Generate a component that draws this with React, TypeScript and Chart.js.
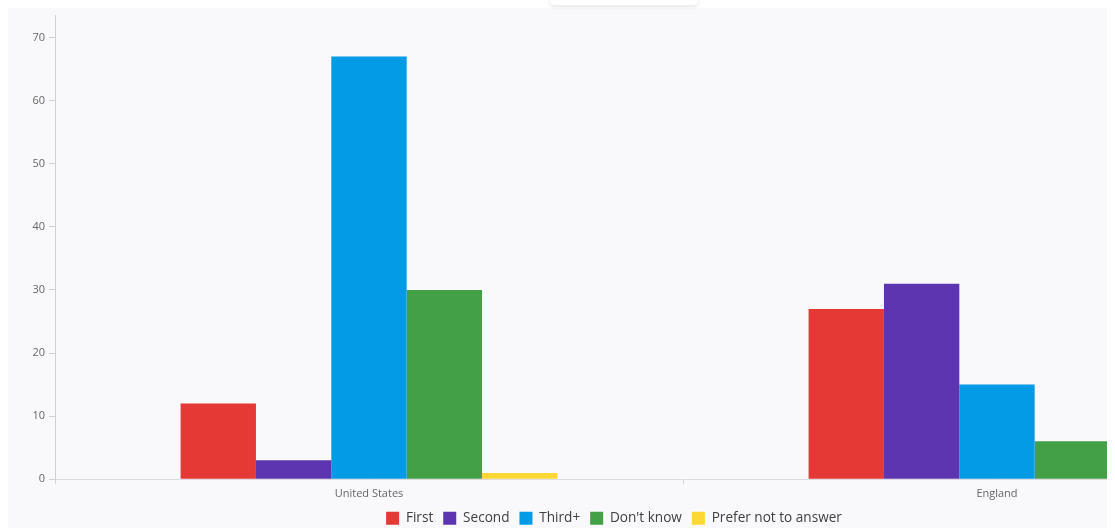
import React, { useEffect, useRef } from "react";
import { Chart, registerables } from "chart.js";

Chart.register(...registerables);

const categories = ["United States", "England"];
const seriesNames = ["First", "Second", "Third+", "Don't know", "Prefer not to answer"];
const firstValues = [12, 27];
const secondValues = [3, 31];
const thirdValues = [67, 15];
const dontKnowValues = [30, 6];
const preferNotValues = [1, 0];
const seriesColors = ["#E53935", "#5E35B1", "#039BE5", "#43A047", "#FDD835"];
const yTickMax = 73.5;
const yStep = 10;

const legendShift = {
  id: "legendShift",
  afterLayout(chart: any) {
    const lg = chart.legend;
    if (!lg) return;
    const desired = 608;
    const cur = (lg.left + lg.right) / 2;
    const d = desired - cur;
    lg.left += d;
    lg.right += d;
    lg.top -= 2;
    lg.bottom -= 2;
  },
};

export default function App() {
  const ref = useRef<HTMLCanvasElement | null>(null);
  useEffect(() => {
    if (!ref.current) return;
    const values = [firstValues, secondValues, thirdValues, dontKnowValues, preferNotValues];
    const chart = new Chart(ref.current, {
      type: "bar",
      data: {
        labels: categories,
        datasets: seriesNames.map((name, i) => ({
          label: name,
          data: values[i],
          backgroundColor: seriesColors[i],
          borderWidth: 0,
          categoryPercentage: 0.6,
          barPercentage: 1.0,
        })),
      },
      options: {
        animation: false,
        responsive: false,
        maintainAspectRatio: false,
        layout: { padding: { top: 8, right: 7, left: 0, bottom: 0 } },
        plugins: {
          tooltip: { enabled: false },
          legend: {
            position: "bottom",
            labels: {
              boxWidth: 13,
              boxHeight: 13,
              padding: 10,
              color: "#404040",
              font: { family: "'Open Sans', sans-serif", size: 13.6 },
            },
          },
        },
        scales: {
          x: {
            grid: {
              offset: true,
              drawOnChartArea: false,
              drawTicks: true,
              tickLength: 5,
              tickColor: "#d4d4d8",
            },
            border: { color: "#dcdce0", width: 1 },
            ticks: {
              color: "#666",
              padding: 3,
              font: { family: "'Open Sans', sans-serif", size: 11 },
            },
          },
          y: {
            min: 0,
            max: yTickMax,
            afterFit(scale: any) {
              scale.width = 49;
            },
            grid: {
              drawOnChartArea: false,
              drawTicks: true,
              tickLength: 6,
              tickColor: "#cfcfd4",
            },
            border: { color: "#cfcfd4", width: 1 },
            ticks: {
              stepSize: yStep,
              includeBounds: false,
              color: "#666",
              padding: 4,
              font: { family: "'Open Sans', sans-serif", size: 11 },
            },
          },
        },
      },
      plugins: [legendShift],
    });
    return () => chart.destroy();
  }, []);

  return (
    <div>
      <div
        style={{
          position: "fixed",
          left: 550,
          top: -4,
          width: 148,
          height: 9,
          background: "#ffffff",
          boxShadow: "0 2px 4px rgba(0,0,0,0.10)",
          borderRadius: 4,
          zIndex: 2,
        }}
      />
      <div
        style={{
          marginLeft: -2,
          marginTop: -3,
          width: 1105,
          height: 523,
          overflow: "hidden",
          background: "#f9f9fb",
          position: "relative",
        }}
      >
        <canvas ref={ref} width={1312} height={532} style={{ display: "block" }} />
      </div>
    </div>
  );
}
